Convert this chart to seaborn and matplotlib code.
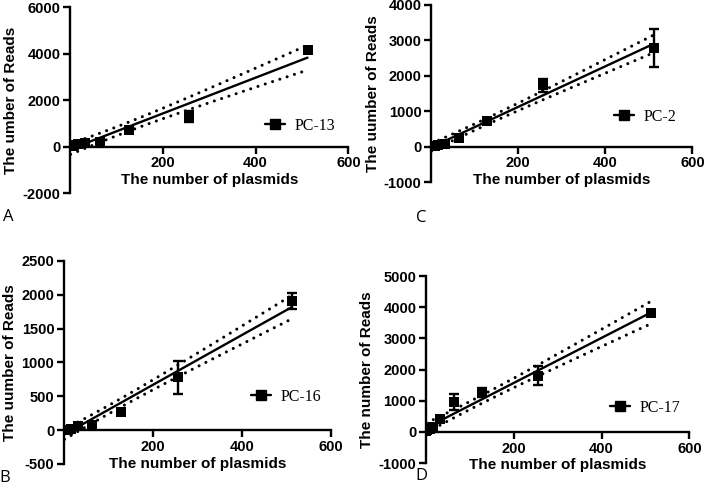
import numpy as np
import pandas as pd
import matplotlib
matplotlib.use("Agg")
import matplotlib.pyplot as plt
from matplotlib.lines import Line2D
import seaborn as sns

sns.set_theme(style="ticks")
plt.rcParams["font.family"] = ["Liberation Sans", "DejaVu Sans"]
plt.rcParams["axes.unicode_minus"] = False
for k in ("text.color", "axes.labelcolor", "xtick.color", "ytick.color", "axes.edgecolor"):
    plt.rcParams[k] = "black"

# ---------------- data ----------------
plasmids = [1, 2, 4, 8, 16, 32, 64, 128, 256, 512]

pc13_reads = [10, 20, 30, 50, 90, 145, 190, 720, 1290, 4160]
pc13_sd = [5, 10, 15, 20, 40, 120, 60, 60, 220, 140]

pc2_reads = [5, 10, 20, 30, 35, 75, 235, 720, 1730, 2780]
pc2_sd = [5, 5, 10, 15, 20, 30, 40, 50, 180, 535]

pc16_reads = [0, 0, 0, 5, 10, 60, 70, 270, 780, 1910]
pc16_sd = [5, 5, 5, 10, 10, 20, 20, 30, 246, 120]

pc17_reads = [30, 50, 85, 100, 150, 400, 950, 1260, 1800, 3820]
pc17_sd = [10, 20, 20, 30, 40, 60, 250, 140, 300, 60]

panels = [
    # name, reads, sd, ylabel, yticks, letter
    ("PC-13", pc13_reads, pc13_sd, "The umber of Reads", [-2000, 0, 2000, 4000, 6000], "A"),
    ("PC-2", pc2_reads, pc2_sd, "The uumber of Reads", [-1000, 0, 1000, 2000, 3000, 4000], "C"),
    ("PC-16", pc16_reads, pc16_sd, "The uumber of Reads", [-500, 0, 500, 1000, 1500, 2000, 2500], "B"),
    ("PC-17", pc17_reads, pc17_sd, "The number of Reads", [-1000, 0, 1000, 2000, 3000, 4000, 5000], "D"),
]
xticks = [200, 400, 600]
xlabel = "The number of plasmids"

# axes rectangles in figure fractions (left, bottom, width, height)
rects = [
    (0.099, 0.6045, 0.393, 0.381),
    (0.609, 0.627, 0.369, 0.363),
    (0.0904, 0.0492, 0.377, 0.416),
    (0.6017, 0.0512, 0.372, 0.383),
]
legend_anchor = [(0.70, 0.36), (0.70, 0.367), (0.70, 0.33), (0.70, 0.294)]
letter_pos = [(8, 217), (421, 218), (5, 478), (421, 476)]

T_CRIT = 2.306  # t(0.975, df=8)

W, H = 708, 488
fig = plt.figure(figsize=(W / 100, H / 100), dpi=100)

for i, (name, reads, sd, ylab, yticks, letter) in enumerate(panels):
    ax = fig.add_axes(rects[i])
    x = np.array(plasmids, dtype=float)
    y = np.array(reads, dtype=float)
    n = len(x)
    slope, intercept = np.polyfit(x, y, 1)
    resid = y - (slope * x + intercept)
    s = np.sqrt(np.sum(resid ** 2) / (n - 2))
    sxx = np.sum((x - x.mean()) ** 2)
    xf = np.linspace(x.min(), x.max(), 200)
    yf = slope * xf + intercept
    half = T_CRIT * s * np.sqrt(1.0 / n + (xf - x.mean()) ** 2 / sxx)
    fit = pd.DataFrame({"x": xf, "fit": yf, "lo": yf - half, "hi": yf + half})

    sns.lineplot(data=fit, x="x", y="fit", ax=ax, color="black", lw=1.7, zorder=2)
    for col in ("lo", "hi"):
        sns.lineplot(data=fit, x="x", y=col, ax=ax, color="black", lw=2.2,
                     linestyle=(0, (0.01, 2.5)), dash_capstyle="round", zorder=2)

    ax.errorbar(x, y, yerr=sd, fmt="none", ecolor="black", elinewidth=1.7,
                capsize=3.5, capthick=1.7, zorder=3)
    df = pd.DataFrame({"x": x, "y": y})
    sns.scatterplot(data=df, x="x", y="y", ax=ax, marker="s", s=60,
                    color="black", edgecolor="black", linewidth=0, zorder=4)

    ax.set_xlim(0, 600)
    ax.set_ylim(yticks[0], yticks[-1])
    ax.set_xticks(xticks)
    ax.set_yticks(yticks)
    ax.set_xticklabels([str(t) for t in xticks])
    ax.set_yticklabels([str(t) for t in yticks])
    for sp in ("top", "right"):
        ax.spines[sp].set_visible(False)
    ax.spines["bottom"].set_position(("data", 0))
    for sp in ("left", "bottom"):
        ax.spines[sp].set_linewidth(1.7)
        ax.spines[sp].set_color("black")
    ax.tick_params(axis="both", direction="out", length=5, width=1.7,
                   colors="black", labelsize=10.5, pad=2)
    for lab in ax.get_xticklabels() + ax.get_yticklabels():
        lab.set_fontweight("bold")
    ax.set_xlabel(xlabel, fontsize=11, fontweight="bold", labelpad=2, color="black")
    ax.set_ylabel(ylab, fontsize=11, fontweight="bold", labelpad=3, color="black")
    ax.set_facecolor("none")

    handle = Line2D([], [], color="black", lw=1.7, marker="s", markersize=7)
    ax.legend([handle], [name], loc="center left", bbox_to_anchor=legend_anchor[i],
              frameon=False, borderpad=0, borderaxespad=0, handlelength=1.25,
              handletextpad=0.6, labelcolor="black",
              prop={"family": ["Liberation Serif"], "size": 11.5})

    lx, ly = letter_pos[i]
    fig.text(lx / W, 1 - ly / H, letter, ha="center", va="center", color="black",
             fontsize=12, family=["Open Sans", "DejaVu Sans"])

fig.savefig("out.png", dpi=100)
